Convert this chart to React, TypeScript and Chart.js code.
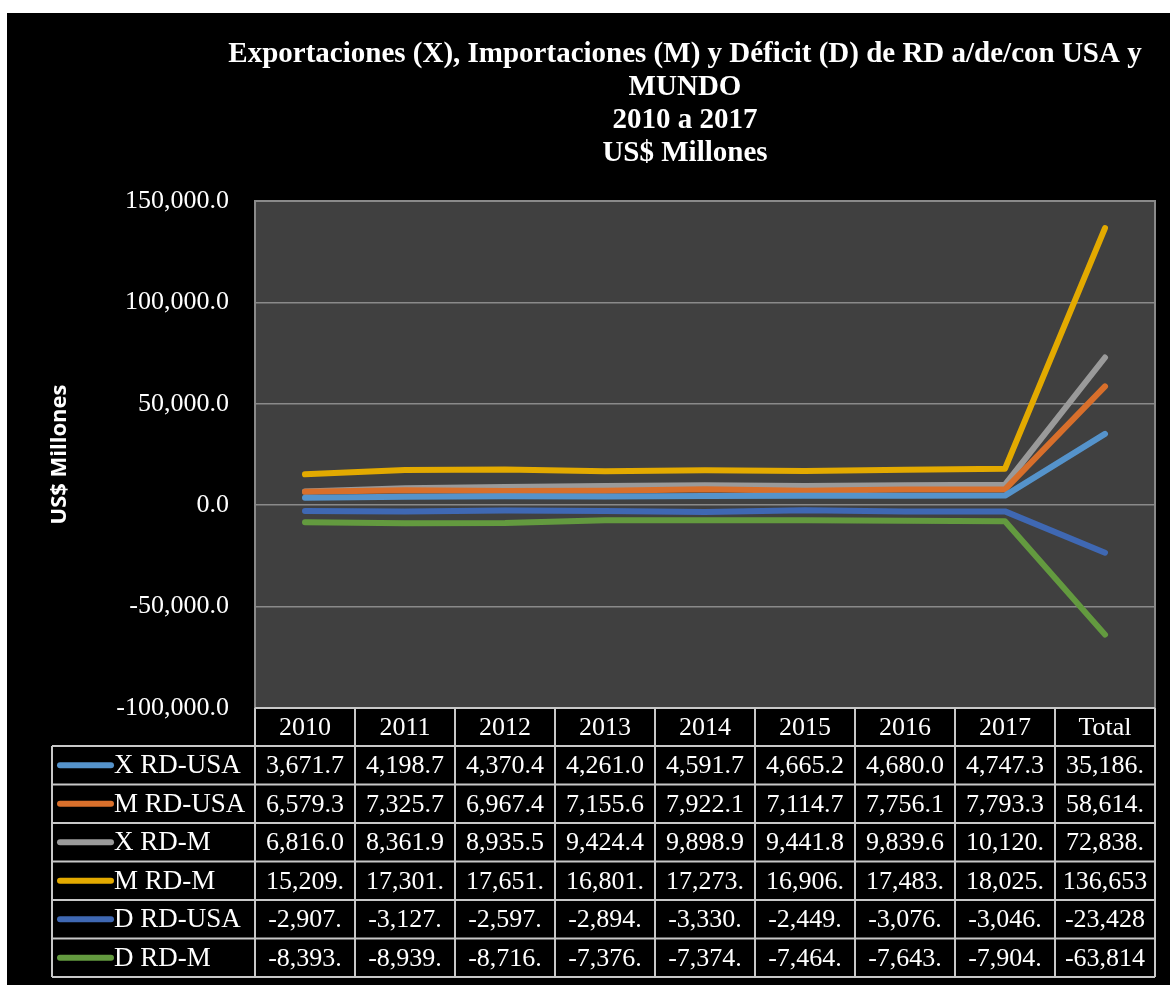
import React, { useEffect, useRef } from "react";
import { Chart, registerables } from "chart.js";

Chart.register(...registerables);

const categories = ["2010", "2011", "2012", "2013", "2014", "2015", "2016", "2017", "Total"];
const seriesNames = ["X RD-USA", "M RD-USA", "X RD-M", "M RD-M", "D RD-USA", "D RD-M"];
const xRdUsa = [3671.7, 4198.7, 4370.4, 4261.0, 4591.7, 4665.2, 4680.0, 4747.3, 35186.0];
const mRdUsa = [6579.3, 7325.7, 6967.4, 7155.6, 7922.1, 7114.7, 7756.1, 7793.3, 58614.2];
const xRdM = [6816.0, 8361.9, 8935.5, 9424.4, 9898.9, 9441.8, 9839.6, 10120.3, 72838.4];
const mRdM = [15209.0, 17301.8, 17651.9, 16801.3, 17273.8, 16906.7, 17483.5, 18025.1, 136653.1];
const dRdUsa = [-2907.6, -3127.0, -2597.0, -2894.6, -3330.4, -2449.5, -3076.1, -3046.0, -23428.2];
const dRdM = [-8393.0, -8939.9, -8716.4, -7376.9, -7374.9, -7464.9, -7643.9, -7904.8, -63814.7];
const seriesColors = ["#5593cb", "#d86f2b", "#9a9a9a", "#e3aa00", "#3f68b3", "#639a3f"];
const titleLines = [
  "Exportaciones (X), Importaciones (M) y Déficit (D) de RD a/de/con USA y",
  "MUNDO",
  "2010 a 2017",
  "US$ Millones",
];
const yTitle = "US$ Millones";

const allSeries = [xRdUsa, mRdUsa, xRdM, mRdM, dRdUsa, dRdM];

const fmt = (v: number) =>
  v.toLocaleString("en-US", { minimumFractionDigits: 1, maximumFractionDigits: 1 }).slice(0, 7);

const SERIF = "'Liberation Serif', 'Times New Roman', serif";

const bgPlugin = {
  id: "bgPlugin",
  beforeDraw(chart: any) {
    const { ctx, chartArea: a } = chart;
    ctx.save();
    ctx.fillStyle = "#000000";
    ctx.fillRect(0, 0, chart.width, chart.height);
    ctx.fillStyle = "#404040";
    ctx.fillRect(a.left, a.top, a.right - a.left, a.bottom - a.top);
    ctx.restore();
  },
  afterDatasetsDraw(chart: any) {
    const { ctx, chartArea: a } = chart;
    ctx.save();
    ctx.strokeStyle = "#8a8a8a";
    ctx.lineWidth = 2;
    ctx.strokeRect(a.left, a.top, a.right - a.left, a.bottom - a.top);
    ctx.restore();
  },
};

const titlePlugin = {
  id: "titlePlugin",
  afterDraw(chart: any) {
    const { ctx } = chart;
    ctx.save();
    ctx.fillStyle = "#ffffff";
    ctx.font = `bold 29px ${SERIF}`;
    ctx.textAlign = "center";
    ctx.textBaseline = "middle";
    titleLines.forEach((t, i) => ctx.fillText(t, 678, 42 + i * 33));
    ctx.restore();
  },
};

const tablePlugin = {
  id: "tablePlugin",
  afterDraw(chart: any) {
    const { ctx, chartArea: a } = chart;
    const xs = chart.scales.x;
    const half = (xs.getPixelForValue(1) - xs.getPixelForValue(0)) / 2;
    const headerH = 38;
    const rowH = 38.5;
    const top = a.bottom;
    const legendLeft = 45;
    const n = categories.length;
    const bottom = top + headerH + rowH * allSeries.length;
    ctx.save();
    ctx.strokeStyle = "#c8c8c8";
    ctx.lineWidth = 2;
    ctx.beginPath();
    ctx.moveTo(a.left, top);
    ctx.lineTo(a.right, top);
    for (let r = 0; r <= allSeries.length; r++) {
      const y = top + headerH + r * rowH;
      ctx.moveTo(legendLeft, y);
      ctx.lineTo(a.right, y);
    }
    for (let c = 0; c <= n; c++) {
      const x = c < n ? xs.getPixelForValue(c) - half : xs.getPixelForValue(n - 1) + half;
      ctx.moveTo(x, top);
      ctx.lineTo(x, bottom);
    }
    ctx.moveTo(legendLeft, top + headerH);
    ctx.lineTo(legendLeft, bottom);
    ctx.stroke();

    ctx.fillStyle = "#ffffff";
    ctx.font = `26px ${SERIF}`;
    ctx.textBaseline = "middle";
    ctx.textAlign = "center";
    categories.forEach((c, i) => {
      ctx.fillText(c, xs.getPixelForValue(i), top + headerH / 2 + 1);
    });
    allSeries.forEach((s, r) => {
      const cy = top + headerH + r * rowH + rowH / 2;
      ctx.textAlign = "center";
      ctx.fillStyle = "#ffffff";
      ctx.font = `26px ${SERIF}`;
      s.forEach((v, i) => ctx.fillText(fmt(v), xs.getPixelForValue(i), cy + 1));
      ctx.strokeStyle = seriesColors[r];
      ctx.lineWidth = 6;
      ctx.lineCap = "round";
      ctx.beginPath();
      ctx.moveTo(53, cy);
      ctx.lineTo(104, cy);
      ctx.stroke();
      ctx.textAlign = "left";
      ctx.font = `27px ${SERIF}`;
      ctx.fillText(seriesNames[r], 107, cy + 1);
    });
    ctx.restore();
  },
};

export default function App() {
  const ref = useRef<HTMLCanvasElement>(null);
  useEffect(() => {
    if (!ref.current) return;
    const chart = new Chart(ref.current, {
      type: "line",
      data: {
        labels: categories,
        datasets: allSeries.map((s, i) => ({
          label: seriesNames[i],
          data: s,
          borderColor: seriesColors[i],
          backgroundColor: seriesColors[i],
          borderWidth: 6,
          borderCapStyle: "round",
          borderJoinStyle: "round",
          pointRadius: 0,
          tension: 0,
        })),
      },
      options: {
        responsive: false,
        animation: false,
        layout: { padding: { top: 188, right: 15, bottom: 277, left: 0 } },
        plugins: { legend: { display: false }, title: { display: false }, tooltip: { enabled: false } },
        scales: {
          x: { type: "category", display: false, offset: true },
          y: {
            min: -100000,
            max: 150000,
            ticks: {
              stepSize: 50000,
              color: "#ffffff",
              padding: 26,
              font: { family: SERIF, size: 26 },
              callback: (v: any) =>
                Number(v).toLocaleString("en-US", { minimumFractionDigits: 1, maximumFractionDigits: 1 }),
            },
            grid: { color: "#8a8a8a", lineWidth: 1.5, drawTicks: false },
            border: { display: false },
            title: {
              display: true,
              text: yTitle,
              color: "#ffffff",
              font: { family: "'Open Sans', sans-serif", size: 22, weight: "bold" },
              padding: { top: 40, bottom: 0 },
            },
            afterFit: (s: any) => {
              s.width = 248;
            },
          },
        },
      } as any,
      plugins: [bgPlugin, titlePlugin, tablePlugin],
    });
    return () => chart.destroy();
  }, []);
  return (
    <div style={{ position: "fixed", left: 7, top: 13, width: 1163, height: 972, background: "#000" }}>
      <canvas ref={ref} width={1163} height={972} style={{ width: 1163, height: 972, display: "block" }} />
    </div>
  );
}
